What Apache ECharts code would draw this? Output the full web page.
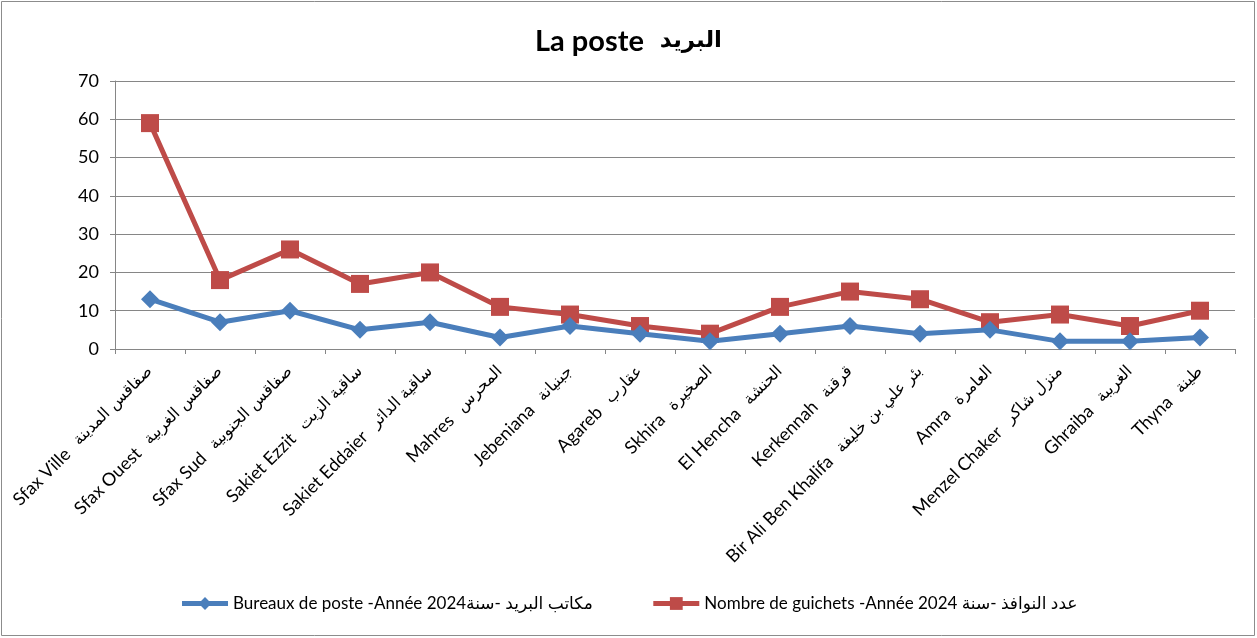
<!DOCTYPE html>
<html>
<head>
<meta charset="utf-8">
<script src="https://cdn.jsdelivr.net/npm/echarts@6/dist/echarts.min.js"></script>
<style>
  html, body { margin: 0; padding: 0; background: #fff; }
  #chart { width: 1257px; height: 638px; }
</style>
</head>
<body>
<div id="chart"></div>
<script>
// Délégations du gouvernorat de Sfax : nom latin et nom arabe
const namesLatin = [
  'Sfax Ville', 'Sfax Ouest', 'Sfax Sud', 'Sakiet Ezzit', 'Sakiet Eddaier',
  'Mahres', 'Jebeniana', 'Agareb', 'Skhira', 'El Hencha', 'Kerkennah',
  'Bir Ali Ben Khalifa', 'Amra', 'Menzel Chaker', 'Ghraiba', 'Thyna'
];
const namesArabic = [
  'صفاقس المدينة', 'صفاقس الغربية', 'صفاقس الجنوبية', 'ساقية الزيت', 'ساقية الدائر',
  'المحرس', 'جبنيانة', 'عقارب', 'الصخيرة', 'الحنشة', 'قرقنة',
  'بئر علي بن خليفة', 'العامرة', 'منزل شاكر', 'الغريبة', 'طينة'
];
const categories = namesLatin.map((n, i) => n + '  ' + namesArabic[i]);

const bureaux = [13, 7, 10, 5, 7, 3, 6, 4, 2, 4, 6, 4, 5, 2, 2, 3];
const guichets = [59, 18, 26, 17, 20, 11, 9, 6, 4, 11, 15, 13, 7, 9, 6, 10];

const yTicks = [0, 10, 20, 30, 40, 50, 60, 70];

const seriesNames = [
  'Bureaux de poste -Année 2024مكاتب البريد -سنة',
  'Nombre de guichets -Année 2024 عدد النوافذ -سنة'
];

const LATIN = 'Lato, "DejaVu Sans", sans-serif';
const ARABIC = '"DejaVu Sans", sans-serif';

const chart = echarts.init(document.getElementById('chart'));
chart.setOption({
  animation: false,
  backgroundColor: '#fff',
  textStyle: { fontFamily: LATIN },
  title: {
    text: '{l|La poste}{a|البريد}',
    left: 'center',
    top: 22,
    textStyle: {
      rich: {
        l: { fontFamily: LATIN, fontSize: 29, fontWeight: 'bold', color: '#000' },
        a: { fontFamily: ARABIC, fontSize: 23, fontWeight: 'bold', color: '#000', padding: [0, 0, 0, 16] }
      }
    }
  },
  graphic: [{
    type: 'rect',
    shape: { x: 1.5, y: 1.5, width: 1253, height: 634 },
    style: { fill: 'none', stroke: '#8c8c8c', lineWidth: 1 },
    silent: true
  }],
  legend: {
    bottom: 21,
    left: 'center',
    itemWidth: 46,
    itemHeight: 16,
    itemGap: 58,
    lineStyle: { width: 5 },
    textStyle: { fontFamily: LATIN, fontSize: 17, color: '#000' },
    data: seriesNames
  },
  grid: { left: 115, right: 22, top: 81, bottom: 289 },
  xAxis: {
    type: 'category',
    data: categories,
    boundaryGap: true,
    axisLine: { lineStyle: { color: '#868686', width: 1 } },
    axisTick: { show: true, length: 5, lineStyle: { color: '#868686' } },
    axisLabel: {
      rotate: 45,
      interval: 0,
      margin: 20,
      color: '#000',
      formatter: (v, i) => '{l|' + namesLatin[i] + '}{a|' + namesArabic[i] + '}',
      rich: {
        l: { fontFamily: LATIN, fontSize: 18, color: '#000' },
        a: { fontFamily: ARABIC, fontSize: 16, color: '#000', padding: [0, 0, 0, 12] }
      }
    }
  },
  yAxis: {
    type: 'value',
    min: yTicks[0],
    max: yTicks[yTicks.length - 1],
    interval: 10,
    axisLine: { show: true, lineStyle: { color: '#868686', width: 1 } },
    axisTick: { show: true, length: 5, lineStyle: { color: '#868686' } },
    splitLine: { lineStyle: { color: '#868686', width: 1 } },
    axisLabel: { fontSize: 18, color: '#000', margin: 16, fontFamily: LATIN }
  },
  series: [
    {
      name: seriesNames[0],
      type: 'line',
      data: bureaux,
      symbol: 'diamond',
      symbolSize: 18,
      lineStyle: { color: '#4A7EBB', width: 5 },
      itemStyle: { color: '#4A7EBB' },
      z: 3
    },
    {
      name: seriesNames[1],
      type: 'line',
      data: guichets,
      symbol: 'rect',
      symbolSize: 18,
      lineStyle: { color: '#BE4B48', width: 5 },
      itemStyle: { color: '#BE4B48' },
      z: 2
    }
  ]
});
</script>
</body>
</html>
